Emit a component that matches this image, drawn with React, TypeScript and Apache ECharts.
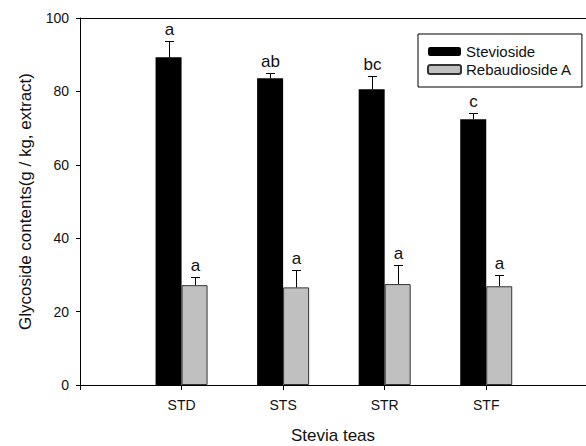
import React, { useEffect, useRef } from "react";
import * as echarts from "echarts";

const categories = ["STD", "STS", "STR", "STF"];
const steviosideName = "Stevioside";
const rebaudiosideName = "Rebaudioside A";
const stevioside = [89.3, 83.6, 80.6, 72.4];
const steviosideErr = [4.3, 1.5, 3.7, 1.8];
const steviosideLetters = ["a", "ab", "bc", "c"];
const rebaudioside = [27.2, 26.6, 27.5, 26.9];
const rebaudiosideErr = [2.3, 4.7, 5.1, 3.0];
const rebaudiosideLetters = ["a", "a", "a", "a"];
const yTicks = [0, 20, 40, 60, 80, 100];

const FONT = "'Liberation Sans', Arial, sans-serif";
const BAR_W = 26;
const X_MAX = 5.13;

function errorSeries(values: number[], errs: number[], letters: string[], side: number) {
  return {
    type: "custom",
    z: 5,
    silent: true,
    data: values.map((v, i) => [i + 1, v, errs[i]]),
    renderItem: (params: any, api: any) => {
      const x = api.value(0);
      const v = api.value(1);
      const e = api.value(2);
      const base = api.coord([x, v]);
      const top = api.coord([x, v + e]);
      const px = Math.round(base[0] + side * (BAR_W / 2)) + 0.5;
      const yTop = Math.round(top[1]) + 0.5;
      const yBase = base[1];
      return {
        type: "group",
        children: [
          { type: "line", shape: { x1: px, y1: yBase, x2: px, y2: yTop }, style: { stroke: "#000", lineWidth: 1 } },
          { type: "line", shape: { x1: px - 4.5, y1: yTop, x2: px + 4.5, y2: yTop }, style: { stroke: "#000", lineWidth: 1 } },
          {
            type: "text",
            x: px,
            y: yTop - 4,
            style: {
              text: letters[params.dataIndex],
              fontFamily: FONT,
              fontSize: 17,
              fill: "#111",
              align: "center",
              verticalAlign: "bottom",
            },
          },
        ],
      };
    },
  };
}

export default function App() {
  const ref = useRef<HTMLDivElement>(null);
  useEffect(() => {
    if (!ref.current) return;
    const chart = echarts.init(ref.current, null, { renderer: "svg" });
    const option: any = {
      animation: false,
      backgroundColor: "#fff",
      textStyle: { fontFamily: FONT },
      grid: { left: 80, right: -15, top: 18, bottom: 61, outerBoundsMode: "none", show: false },
      legend: {
        data: [steviosideName, rebaudiosideName],
        orient: "vertical",
        left: 418,
        top: 34,
        itemWidth: 33,
        itemHeight: 9,
        itemGap: 3,
        borderColor: "#000",
        borderWidth: 1,
        padding: [10, 10, 10, 9],
        backgroundColor: "#fff",
        textStyle: { fontFamily: FONT, fontSize: 15, color: "#111" },
      },
      xAxis: [
        {
          type: "value",
          min: 0,
          max: X_MAX,
          interval: 1,
          name: "Stevia teas",
          nameLocation: "middle",
          nameGap: 42,
          nameTextStyle: { fontFamily: FONT, fontSize: 17, color: "#111", padding: [0, 15, 0, 0] },
          axisLine: { show: true, lineStyle: { color: "#000", width: 1 } },
          axisTick: { show: true, inside: false, length: 5, lineStyle: { color: "#000" } },
          axisLabel: {
            fontFamily: FONT,
            fontSize: 14,
            color: "#111",
            margin: 13,
            showMaxLabel: false,
            formatter: (v: number) =>
              Number.isInteger(v) && v >= 1 && v <= categories.length ? categories[v - 1] : "",
          },
          splitLine: { show: false },
        },
        {
          type: "value",
          position: "top",
          min: 0,
          max: X_MAX,
          axisLine: { show: true, onZero: false, lineStyle: { color: "#000", width: 1 } },
          axisTick: { show: false },
          axisLabel: { show: false },
          splitLine: { show: false },
        },
      ],
      yAxis: {
        type: "value",
        min: yTicks[0],
        max: yTicks[yTicks.length - 1],
        interval: 20,
        name: "Glycoside contents(g / kg, extract)",
        nameLocation: "middle",
        nameGap: 46,
        nameTextStyle: { fontFamily: FONT, fontSize: 17, color: "#111" },
        axisLine: { show: true, lineStyle: { color: "#000", width: 1 } },
        axisTick: { show: true, inside: false, length: 4, lineStyle: { color: "#000" } },
        axisLabel: { fontFamily: FONT, fontSize: 14, color: "#111", margin: 11 },
        splitLine: { show: false },
      },
      series: [
        {
          name: steviosideName,
          type: "bar",
          barWidth: BAR_W,
          barGap: "0%",
          data: stevioside.map((v, i) => [i + 1, v]),
          itemStyle: { color: "#000" },
        },
        {
          name: rebaudiosideName,
          type: "bar",
          barWidth: BAR_W,
          barGap: "0%",
          data: rebaudioside.map((v, i) => [i + 1, v]),
          itemStyle: { color: "#c0c0c0", borderColor: "#333", borderWidth: 1 },
        },
        errorSeries(stevioside, steviosideErr, steviosideLetters, -1),
        errorSeries(rebaudioside, rebaudiosideErr, rebaudiosideLetters, 1),
      ],
    };
    chart.setOption(option);
    return () => chart.dispose();
  }, []);
  return (
    <div
      ref={ref}
      style={{ position: "fixed", left: 0, top: 0, width: 586, height: 446, overflow: "hidden", background: "#fff" }}
    />
  );
}
